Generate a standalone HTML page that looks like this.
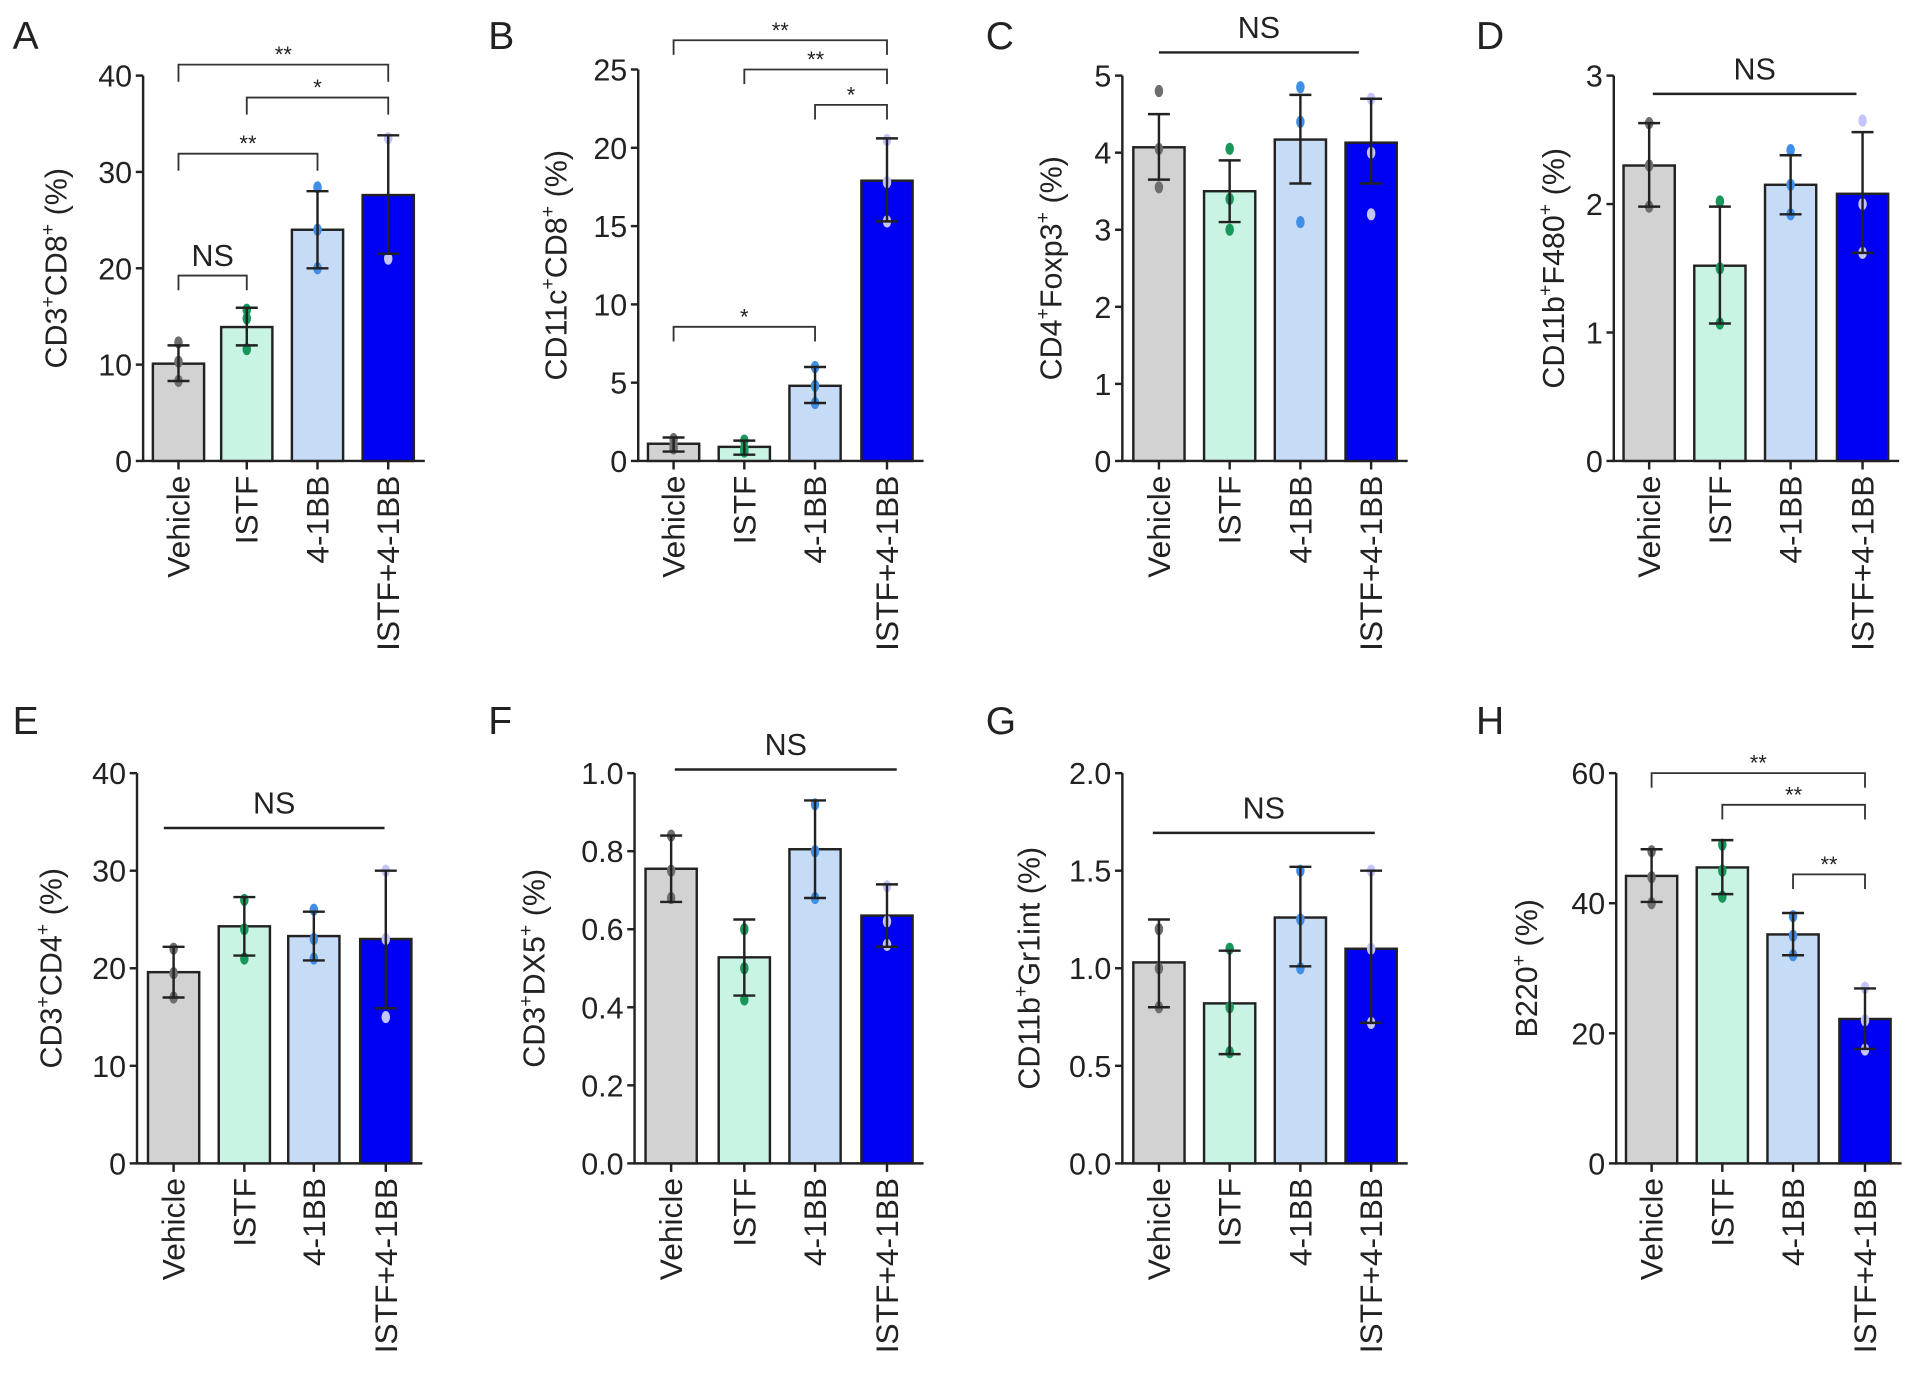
<!DOCTYPE html>
<html><head><meta charset="utf-8"><style>
html,body{margin:0;padding:0;background:#fff}
svg{display:block}
text{font-family:"Liberation Sans",Arial,sans-serif;fill:#222}
</style></head><body>
<svg id="fig" width="1913" height="1378" viewBox="0 0 1568 1130" xmlns="http://www.w3.org/2000/svg"></svg>
<script>
const categories = ["Vehicle","ISTF","4-1BB","ISTF+4-1BB"];
const valuesA = [10.1, 13.9, 24.0, 27.6];
const hiA = [12.0, 15.9, 28.0, 33.8];
const loA = [8.3, 12.0, 20.0, 21.5];
const ptsA = [[12.3,10.3,8.3],[15.7,14.8,11.6],[28.4,24,20],[33.5,21]];
const valuesB = [1.1, 0.9, 4.8, 17.9];
const hiB = [1.5, 1.3, 6.0, 20.6];
const loB = [0.6, 0.4, 3.7, 15.3];
const ptsB = [[1.4,1.0,0.8],[1.3,0.8,0.6],[6.0,4.8,3.7],[20.5,17.8,15.3]];
const valuesC = [4.07, 3.5, 4.17, 4.13];
const hiC = [4.5, 3.9, 4.75, 4.7];
const loC = [3.65, 3.1, 3.6, 3.6];
const ptsC = [[4.8,4.05,3.55],[4.05,3.4,3.0],[4.85,4.4,3.1],[4.7,4.0,3.2]];
const valuesD = [2.3, 1.52, 2.15, 2.08];
const hiD = [2.63, 1.98, 2.38, 2.56];
const loD = [1.98, 1.07, 1.92, 1.62];
const ptsD = [[2.63,2.3,1.98],[2.02,1.5,1.07],[2.42,2.15,1.92],[2.65,2.0,1.62]];
const valuesE = [19.6, 24.3, 23.3, 23.0];
const hiE = [22.2, 27.3, 25.8, 30.0];
const loE = [17.0, 21.3, 20.8, 15.9];
const ptsE = [[22,19.5,17],[27,24,21],[26,23,21],[30,23,15]];
const valuesF = [0.755, 0.528, 0.805, 0.635];
const hiF = [0.84, 0.625, 0.93, 0.715];
const loF = [0.67, 0.43, 0.68, 0.555];
const ptsF = [[0.84,0.75,0.68],[0.6,0.5,0.42],[0.92,0.8,0.68],[0.71,0.62,0.56]];
const valuesG = [1.03, 0.82, 1.26, 1.1];
const hiG = [1.25, 1.09, 1.52, 1.5];
const loG = [0.8, 0.56, 1.01, 0.72];
const ptsG = [[1.2,1.0,0.8],[1.1,0.8,0.57],[1.5,1.25,1.0],[1.5,1.1,0.72]];
const valuesH = [44.2, 45.5, 35.2, 22.2];
const hiH = [48.3, 49.7, 38.5, 26.9];
const loH = [40.2, 41.4, 32.0, 17.6];
const ptsH = [[48,44,40],[49,45,41],[38,35,32],[27,22,17.5]];
const ticksA=[0,10,20,30,40], ticksB=[0,5,10,15,20,25], ticksC=[0,1,2,3,4,5], ticksD=[0,1,2,3];
const ticksE=[0,10,20,30,40], ticksF=["0.0","0.2","0.4","0.6","0.8","1.0"], ticksG=["0.0","0.5","1.0","1.5","2.0"], ticksH=[0,20,40,60];

const fills=["#d2d2d2","#c9f3e2","#c6dbf6","#0000f2"];
const dotc=["#6e6e6e","#16985a","#3f8fe8","#c4c4fa"];
const NS="http://www.w3.org/2000/svg";
const svg=document.getElementById('fig');
function el(tag,attrs,parent){const e=document.createElementNS(NS,tag);for(const k in attrs)e.setAttribute(k,attrs[k]);(parent||svg).appendChild(e);return e;}

const panels=[
 {id:"a",L:"A",lx:10,ly:40,ax:117,top:62,bot:378,max:40,ticks:ticksA,vals:valuesA,hi:hiA,lo:loA,pts:ptsA,cx:[146,202,260,318],ylab:["CD3","+","CD8","+"," (%)"],ylx:54,
  br:[{a:0,b:3,y:53,t:"**",d:14},{a:1,b:3,y:80,t:"*",d:14},{a:0,b:2,y:126,t:"**",d:14},{a:0,b:1,y:226,t:"NS",d:12,big:1}],ns:null},
 {id:"b",L:"B",lx:400,ly:40,ax:523,top:57,bot:378,max:25,ticks:ticksB,vals:valuesB,hi:hiB,lo:loB,pts:ptsB,cx:[552,610,668,727],ylab:["CD11c","+","CD8","+"," (%)"],ylx:464,
  br:[{a:0,b:3,y:33,t:"**",d:12},{a:1,b:3,y:57,t:"**",d:12},{a:2,b:3,y:86,t:"*",d:12},{a:0,b:2,y:268,t:"*",d:12}],ns:null},
 {id:"c",L:"C",lx:808,ly:40,ax:920,top:62,bot:378,max:5,ticks:ticksC,vals:valuesC,hi:hiC,lo:loC,pts:ptsC,cx:[950,1008,1066,1124],ylab:["CD4","+","Foxp3","+"," (%)"],ylx:870,
  br:[],ns:{x1:950,x2:1114,y:43}},
 {id:"d",L:"D",lx:1210,ly:40,ax:1323,top:62,bot:378,max:3,ticks:ticksD,vals:valuesD,hi:hiD,lo:loD,pts:ptsD,cx:[1352,1410,1468,1527],ylab:["CD11b","+","F480","+"," (%)"],ylx:1282,
  br:[],ns:{x1:1355,x2:1522,y:77}},
 {id:"e",L:"E",lx:10,ly:602,ax:112,top:634,bot:954,max:40,ticks:ticksE,vals:valuesE,hi:hiE,lo:loE,pts:ptsE,cx:[142,200,257,316],ylab:["CD3","+","CD4","+"," (%)"],ylx:50,
  br:[],ns:{x1:134,x2:315,y:679}},
 {id:"f",L:"F",lx:400,ly:602,ax:520,top:634,bot:954,max:1,ticks:ticksF,vals:valuesF,hi:hiF,lo:loF,pts:ptsF,cx:[550,610,668,727],ylab:["CD3","+","DX5","+"," (%)"],ylx:446,
  br:[],ns:{x1:553,x2:735,y:631}},
 {id:"g",L:"G",lx:808,ly:602,ax:920,top:634,bot:954,max:2,ticks:ticksG,vals:valuesG,hi:hiG,lo:loG,pts:ptsG,cx:[950,1008,1066,1124],ylab:["CD11b","+","Gr1int (%)"],ylx:852,
  br:[],ns:{x1:945,x2:1127,y:683}},
 {id:"h",L:"H",lx:1210,ly:602,ax:1325,top:634,bot:954,max:60,ticks:ticksH,vals:valuesH,hi:hiH,lo:loH,pts:ptsH,cx:[1354,1412,1470,1529],ylab:["B220","+"," (%)"],ylx:1260,
  br:[{a:0,b:3,y:634,t:"**",d:12},{a:1,b:3,y:660,t:"**",d:12},{a:2,b:3,y:717,t:"**",d:12}],ns:null}
];

panels.forEach(p=>{
  const g=el('g',{});
  
  
  const y=v=>p.bot-(+v)/p.max*(p.bot-p.top);
  const lt=el('text',{x:p.lx,y:p.ly,'font-size':32},g);lt.textContent=p.L;
  
  
  const xEnd=p.cx[3]+30;
  const axis=el('path',{d:`M${p.ax},${p.top}V${p.bot}H${xEnd}`,stroke:'#222','stroke-width':2,fill:'none'},g);
  
  
  p.ticks.forEach(t=>{
    el('line',{x1:p.ax-6,x2:p.ax,y1:y(t),y2:y(t),stroke:'#222','stroke-width':2},g);
    const tx=el('text',{x:p.ax-9,y:y(t)+9,'font-size':25,'text-anchor':'end'},g);tx.textContent=t;
    
    
  });
  const yl=el('text',{transform:`translate(${p.ylx},${(p.top+p.bot)/2}) rotate(-90)`,'font-size':25,'text-anchor':'middle'},g);
  
  
  p.ylab.forEach((s,i)=>{const ts=el('tspan',{},yl);ts.textContent=s;if(s==='+'){ts.setAttribute('dy',-10);ts.setAttribute('font-size',16);}else if(i>0&&p.ylab[i-1]==='+'){ts.setAttribute('dy',10);}});
  categories.forEach((c,i)=>{
    const x=p.cx[i];
    el('line',{x1:x,x2:x,y1:p.bot,y2:p.bot+7,stroke:'#222','stroke-width':2},g);
    const b=el('rect',{x:x-21,y:y(p.vals[i]),width:42,height:p.bot-y(p.vals[i]),fill:fills[i],stroke:'#222','stroke-width':2},g);
    
    
    p.pts[i].forEach(v=>{const d=el('ellipse',{cx:x,cy:y(v),rx:3.5,ry:5,fill:dotc[i]},g);
      
      });
    const e=el('path',{d:`M${x},${y(p.hi[i])}V${y(p.lo[i])}M${x-9},${y(p.hi[i])}h18M${x-9},${y(p.lo[i])}h18`,stroke:'#222','stroke-width':2,fill:'none'},g);
    
    
    const xl=el('text',{transform:`translate(${x+9},${p.bot+12}) rotate(-90)`,'font-size':26,'text-anchor':'end'},g);xl.textContent=c;
    
    
  });
  p.br.forEach(b=>{
    const x1=p.cx[b.a],x2=p.cx[b.b];
    const bp=el('path',{d:`M${x1},${b.y+b.d}V${b.y}H${x2}V${b.y+b.d}`,stroke:'#333','stroke-width':1.5,fill:'none'},g);
    
    
    const bt=el('text',{x:(x1+x2)/2,y:b.big?b.y-8:b.y-2,'font-size':b.big?25:18,'text-anchor':'middle'},g);bt.textContent=b.t;
    
    
  });
  if(p.ns){
    const nl=el('line',{x1:p.ns.x1,x2:p.ns.x2,y1:p.ns.y,y2:p.ns.y,stroke:'#222','stroke-width':2},g);
    
    
    const nt=el('text',{x:(p.ns.x1+p.ns.x2)/2,y:p.ns.y-12,'font-size':25,'text-anchor':'middle'},g);nt.textContent="NS";
    
    
  }
});
</script>
</body></html>
